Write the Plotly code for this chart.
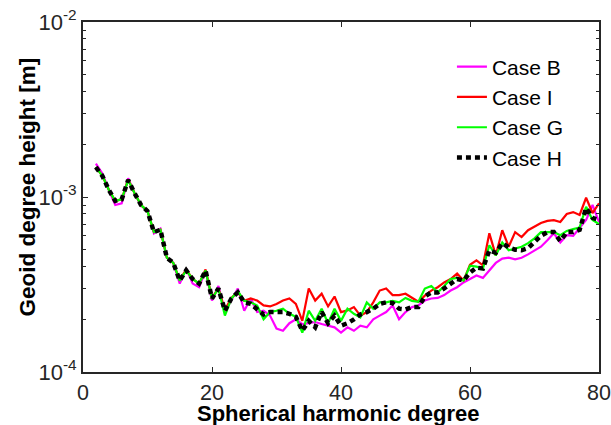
import plotly.graph_objects as go

degrees = list(range(2, 81))

# Geoid degree height values, in units of 1e-4 m
case_b = [15.5, 13.6, 11.0, 9.0, 9.2, 12.8, 10.5, 8.9, 8.4, 6.2,
          6.6, 4.5, 4.2, 3.2, 3.9, 3.2, 3.05, 3.8, 2.56, 3.1,
          2.2, 2.56, 3.0, 2.24, 2.63, 2.2, 2.24, 2.1, 1.77, 1.72,
          1.9, 2.0, 1.88, 1.9, 1.93, 1.88, 1.84, 1.8, 1.68, 1.8,
          1.72, 1.84, 1.8, 2.0, 2.1, 2.2, 2.4, 2.0, 2.2, 2.35,
          2.4, 2.56, 2.63, 2.65, 2.75, 2.92, 3.05, 3.25, 3.4, 3.56,
          3.45, 3.8, 4.2, 4.45, 4.5, 4.4, 4.5, 4.7, 4.96, 5.2,
          5.66, 6.2, 5.5, 6.05, 6.0, 6.7, 7.4, 9.0, 7.2]

case_i = [14.8, 13.2, 11.0, 9.5, 9.7, 12.6, 10.5, 9.0, 8.3, 6.3,
          6.5, 4.5, 4.2, 3.35, 3.85, 3.4, 3.2, 3.85, 2.65, 3.0,
          2.26, 2.65, 2.87, 2.55, 2.63, 2.56, 2.4, 2.37, 2.45, 2.56,
          2.63, 2.45, 1.96, 3.0, 2.56, 2.8, 2.37, 2.7, 2.2, 2.25,
          2.35, 2.1, 2.2, 2.5, 2.92, 3.0, 2.75, 2.75, 2.8, 2.65,
          2.52, 2.73, 2.92, 3.05, 3.25, 3.4, 3.65, 3.33, 4.1, 4.35,
          4.07, 6.2, 4.64, 6.46, 5.2, 6.3, 5.9, 6.46, 6.75, 7.1,
          7.3, 7.38, 7.2, 8.0, 8.2, 7.9, 9.9, 8.1, 9.2]

case_g = [14.8, 13.2, 11.0, 9.5, 9.7, 12.5, 10.5, 9.0, 8.3, 6.3,
          6.5, 4.5, 4.2, 3.33, 3.81, 3.4, 3.2, 3.8, 2.63, 3.0,
          2.1, 2.63, 2.9, 2.55, 2.5, 2.4, 2.0, 2.2, 2.24, 2.3,
          2.15, 2.07, 1.68, 2.24, 1.96, 2.3, 1.9, 2.3, 1.96, 2.3,
          2.15, 2.05, 2.5, 2.3, 2.5, 2.5, 2.55, 2.5, 2.65, 2.55,
          2.52, 3.0, 3.1, 2.85, 3.1, 3.4, 3.45, 3.33, 4.05, 4.0,
          3.9, 5.3, 4.64, 5.5, 4.96, 5.1, 5.2, 5.45, 5.8, 6.3,
          6.3, 6.3, 6.05, 6.4, 6.55, 6.7, 8.8, 7.4, 7.0]

case_h = [14.8, 13.2, 11.0, 9.5, 9.7, 12.5, 10.5, 9.0, 8.3, 6.3,
          6.5, 4.5, 4.2, 3.33, 3.81, 3.4, 3.2, 3.8, 2.63, 3.0,
          2.24, 2.63, 2.85, 2.5, 2.45, 2.3, 2.13, 2.2, 2.2, 2.2,
          2.15, 2.07, 1.72, 1.96, 1.8, 2.2, 1.9, 2.1, 1.84, 1.9,
          2.0, 2.13, 2.2, 2.3, 2.45, 2.5, 2.48, 2.3, 2.28, 2.35,
          2.35, 2.7, 2.85, 2.85, 3.0, 3.2, 3.4, 3.33, 3.7, 3.95,
          3.9, 4.96, 4.8, 5.45, 5.15, 5.0, 4.96, 5.1, 5.5, 6.0,
          6.3, 6.3, 5.6, 6.3, 6.3, 6.5, 8.65, 7.6, 7.4]

series_names = ["Case B", "Case I", "Case G", "Case H"]
x_ticks = [0, 20, 40, 60, 80]
y_ticks = [1e-4, 1e-3, 1e-2]
y_ticktext = ["10<sup>-4</sup>", "10<sup>-3</sup>", "10<sup>-2</sup>"]
y_minor = [m * 10.0 ** e for e in (-4, -3) for m in range(2, 10)]
x_title = "Spherical harmonic degree"
y_title = "Geoid degree height [m]"

unit = 1e-4
styles = [
    dict(color="#FF00FF", width=2.2),
    dict(color="#FF0000", width=2.2),
    dict(color="#00FF00", width=2.2),
    dict(color="#000000", width=4.5, dash="5px,4px"),
]

fig = go.Figure()
for name, vals, st in zip(series_names, [case_b, case_i, case_g, case_h], styles):
    fig.add_trace(go.Scatter(
        x=degrees, y=[v * unit for v in vals], mode="lines",
        name=name, line=st,
    ))

axis_color = "#262626"
font_family = "Liberation Sans, Arial, sans-serif"
fs = 22

fig.update_layout(
    width=611, height=425,
    margin=dict(l=83, r=12, t=22, b=53),
    paper_bgcolor="white", plot_bgcolor="white",
    font=dict(family=font_family, size=fs, color=axis_color),
    showlegend=True,
    legend=dict(
        x=0.715, y=0.93, xanchor="left", yanchor="top",
        bgcolor="rgba(255,255,255,0)",
        font=dict(size=21, color="#000000", family=font_family),
        tracegroupgap=0, itemwidth=30,
    ),
    annotations=[
        dict(text="<b>" + x_title + "</b>", xref="paper", yref="paper",
             x=0.495, y=-0.118, xanchor="center", yanchor="middle",
             showarrow=False, font=dict(size=22, color="#000000")),
        dict(text="<b>" + y_title + "</b>", xref="paper", yref="paper",
             x=-0.1066, y=0.53, xanchor="center", yanchor="middle",
             textangle=-90, showarrow=False,
             font=dict(size=22.5, color="#000000")),
    ],
)

fig.update_xaxes(
    range=[0, 80], tickvals=x_ticks, automargin=False,
    ticks="inside", ticklen=5, tickwidth=1.2, tickcolor=axis_color,
    ticklabeloverflow="allow",
    showline=True, linecolor=axis_color, linewidth=2, mirror="ticks",
    showgrid=False, zeroline=False,
    tickfont=dict(size=21.5, color=axis_color),
)
fig.update_yaxes(
    type="log", range=[-4, -2], tickvals=y_ticks, ticktext=y_ticktext,
    automargin=False, ticklabeloverflow="allow",
    ticks="inside", ticklen=5, tickwidth=1.2, tickcolor=axis_color,
    minor=dict(tickvals=y_minor, ticks="inside", ticklen=3,
               tickcolor=axis_color, tickwidth=1.2, showgrid=False),
    showline=True, linecolor=axis_color, linewidth=2, mirror="ticks",
    showgrid=False, zeroline=False,
    tickfont=dict(size=fs, color=axis_color),
)

fig.write_html("out.html")
